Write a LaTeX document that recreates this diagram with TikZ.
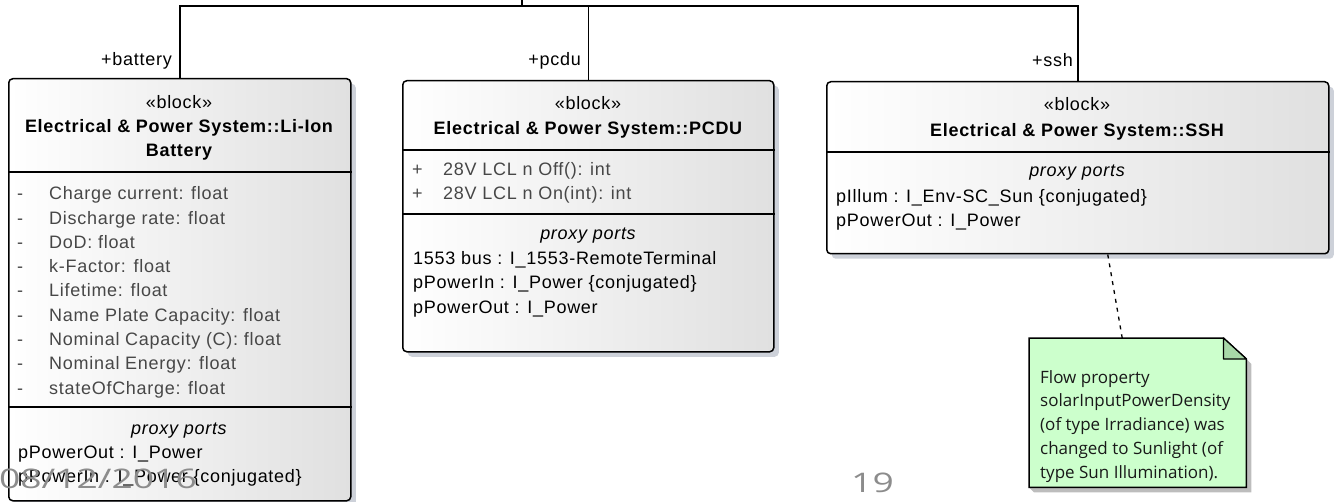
\documentclass[tikz,border=0pt]{standalone}
\usepackage{fontspec}
\setmainfont{Liberation Sans}[LetterSpace=4]
\newfontfamily\notefont{Open Sans}
\newfontfamily\datefont{Open Sans}
\usetikzlibrary{shadows}
\definecolor{shadowc}{HTML}{CDD1D9}
\definecolor{attrc}{HTML}{474747}
\definecolor{notefill}{HTML}{CCFFCC}
\definecolor{notefold}{HTML}{A8D8A8}
\definecolor{noteshadowc}{HTML}{BDBDBD}
\definecolor{datec}{HTML}{8C8C8C}
\definecolor{blockright}{HTML}{E0E0E0}
\tikzset{
  blockbox/.style={draw=black, line width=1.5pt, rounded corners=4pt,
    left color=white, right color=blockright, anchor=north west, inner sep=0pt,
    drop shadow={shadow xshift=5pt, shadow yshift=-5pt, fill=shadowc, opacity=1}},
  sepline/.style={draw=black, line width=1.5pt},
  conn/.style={draw=black, line width=1.5pt},
  txt/.style={inner sep=0pt, font=\fontsize{18}{22}\selectfont, anchor=base west},
  ctxt/.style={txt, anchor=base},
  btxt/.style={ctxt, font=\fontsize{18}{22}\selectfont\bfseries},
  atxt/.style={txt, text=attrc},
  itxt/.style={ctxt, font=\fontsize{18}{22}\selectfont\itshape},
  lbl/.style={txt, anchor=base east},
  ntxt/.style={inner sep=0pt, anchor=base west, font=\notefont\fontsize{17}{20}\selectfont, text=black!90},
  datetxt/.style={inner sep=0pt, font=\datefont\fontsize{27}{30}\selectfont, text=datec},
}
\begin{document}
\begin{tikzpicture}[x=1pt,y=-1pt]
\useasboundingbox (0,0) rectangle (1337,502);

% blocks
\node[blockbox, minimum width=342pt, minimum height=422pt] (bat) at (8,78) {};
\node[blockbox, minimum width=371pt, minimum height=271pt] (pcdu) at (402,80) {};
\node[blockbox, minimum width=502pt, minimum height=172pt] (ssh) at (826,81) {};

% connectors
\coordinate (bus) at (522,6);
\coordinate (top) at (522,0);
\draw[conn] (bat.north) |- (bus) -| (ssh.north);
\draw[conn] (pcdu.north) |- (bus);
\draw[conn] (bus) -- (top);

\node[lbl] (lbat) at (172,66) {+battery};
\node[lbl] (lpcdu) at (581,66) {+pcdu};
\node[lbl] (lssh) at (1073,67) {+ssh};

% battery block
\node[ctxt] (bst) at (179,109) {«block»};
\node[btxt] (bh1) at (179,133) {Electrical \& Power System::Li-Ion};
\node[btxt] (bh2) at (179,157) {Battery};
\draw[sepline] (bat.west |- 0,172) -- (bat.east |- 0,172);
\node[atxt] (ba1d) at (17,200) {-};     \node[atxt] (ba1) at (49,200) {Charge current: float};
\node[atxt] (ba2d) at (17,224.25) {-};  \node[atxt] (ba2) at (49,224.25) {Discharge rate: float};
\node[atxt] (ba3d) at (17,248.5) {-};   \node[atxt] (ba3) at (49,248.5) {DoD: float};
\node[atxt] (ba4d) at (17,272.75) {-};  \node[atxt] (ba4) at (49,272.75) {k-Factor: float};
\node[atxt] (ba5d) at (17,297) {-};     \node[atxt] (ba5) at (49,297) {Lifetime: float};
\node[atxt] (ba6d) at (17,321.25) {-};  \node[atxt] (ba6) at (49,321.25) {Name Plate Capacity: float};
\node[atxt] (ba7d) at (17,345.5) {-};   \node[atxt] (ba7) at (49,345.5) {Nominal Capacity (C): float};
\node[atxt] (ba8d) at (17,369.75) {-};  \node[atxt] (ba8) at (49,369.75) {Nominal Energy: float};
\node[atxt] (ba9d) at (17,394) {-};     \node[atxt] (ba9) at (49,394) {stateOfCharge: float};
\draw[sepline] (bat.west |- 0,407) -- (bat.east |- 0,407);
\node[itxt] (bpp) at (179,434) {proxy ports};
\node[txt] (bp1) at (18,458) {pPowerOut : I\_Power};
\node[txt] (bp2) at (18,482) {pPowerIn : I\_Power \{conjugated\}};

% pcdu block
\node[ctxt] (pst) at (588,110) {«block»};
\node[btxt] (ph1) at (588,135) {Electrical \& Power System::PCDU};
\draw[sepline] (pcdu.west |- 0,150) -- (pcdu.east |- 0,150);
\node[atxt] (pm1d) at (412,176) {+};  \node[atxt] (pm1) at (443,176) {28V LCL n Off(): int};
\node[atxt] (pm2d) at (412,200) {+};  \node[atxt] (pm2) at (443,200) {28V LCL n On(int): int};
\draw[sepline] (pcdu.west |- 0,214) -- (pcdu.east |- 0,214);
\node[itxt] (ppp) at (588,240) {proxy ports};
\node[txt] (pp1) at (413,265) {1553 bus : I\_1553-RemoteTerminal};
\node[txt] (pp2) at (413,289) {pPowerIn : I\_Power \{conjugated\}};
\node[txt] (pp3) at (413,313) {pPowerOut : I\_Power};

% ssh block
\node[ctxt] (sst) at (1077,111) {«block»};
\node[btxt] (sh1) at (1077,137) {Electrical \& Power System::SSH};
\draw[sepline] (ssh.west |- 0,152) -- (ssh.east |- 0,152);
\node[itxt] (spp) at (1077,177) {proxy ports};
\node[txt] (sp1) at (836,203) {pIllum : I\_Env-SC\_Sun \{conjugated\}};
\node[txt] (sp2) at (836,227) {pPowerOut : I\_Power};

% note
\node[inner sep=0pt, minimum width=217pt, minimum height=149pt, anchor=north west] (note) at (1029,338) {};
\fill[noteshadowc] ([xshift=5pt,yshift=-26pt]note.north east) -- ([xshift=5pt,yshift=-5pt]note.south east) -- ([xshift=5pt,yshift=-5pt]note.south west) -- (note.south west) -- (note.south east) -- ([yshift=-21pt]note.north east) -- cycle;
\filldraw[fill=notefill, draw=black, line width=1.5pt] (note.north west) -- ([xshift=-23pt]note.north east) -- ([yshift=-21pt]note.north east) -- (note.south east) -- (note.south west) -- cycle;
\filldraw[fill=notefold, draw=black, line width=1.2pt, line join=round] ([xshift=-23pt]note.north east) -- ([xshift=-23pt,yshift=-21pt]note.north east) -- ([yshift=-21pt]note.north east) -- cycle;
\node[ntxt] (n1) at (1040,383) {Flow property};
\node[ntxt] (n2) at (1040,406.5) {solarInputPowerDensity};
\node[ntxt] (n3) at (1040,430) {(of type Irradiance) was};
\node[ntxt] (n4) at (1040,454) {changed to Sunlight (of};
\node[ntxt] (n5) at (1040,478) {type Sun Illumination).};
\draw[black, line width=1.3pt, dash pattern=on 4pt off 5pt] ([xshift=30pt]ssh.south) -- ([xshift=-15.5pt]note.north);

% slide footer
\node[datetxt, anchor=base east] (date) at (197,488) {\scalebox{1.38}[1]{08/12/2016}};
\node[datetxt, anchor=base west] (page) at (851,492) {\scalebox{1.38}[1]{19}};
\end{tikzpicture}
\end{document}
